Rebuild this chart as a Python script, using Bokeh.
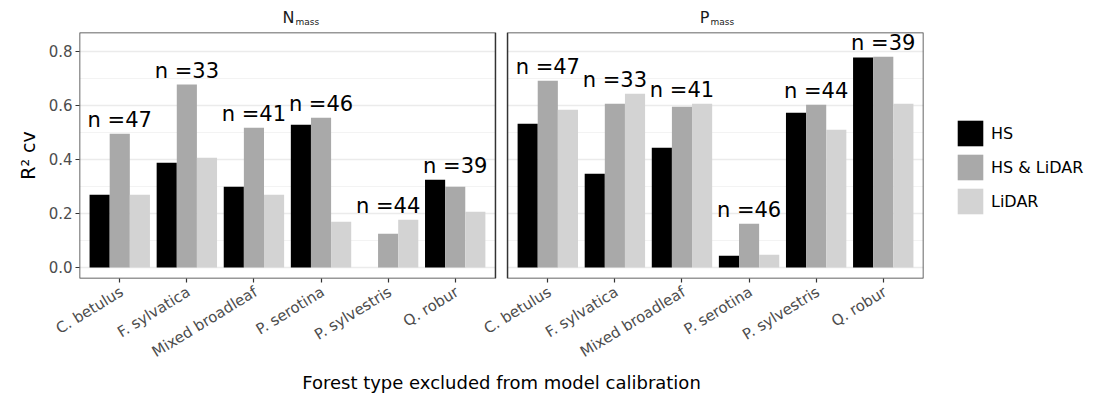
import math
import numpy as np
from bokeh.plotting import figure
from bokeh.layouts import column
from bokeh.models import (ColumnDataSource, Range1d, FixedTicker, PrintfTickFormatter,
                          BoxAnnotation, Legend, LegendItem, LinearAxis)
from bokeh.transform import dodge
from bokeh.core.properties import value
from bokeh.embed import file_html
from bokeh.resources import INLINE

# ---------------- data ----------------
forest_types = ["C. betulus", "F. sylvatica", "Mixed broadleaf",
                "P. serotina", "P. sylvestris", "Q. robur"]
series_names = ["HS", "HS & LiDAR", "LiDAR"]
n_obs = [47, 33, 41, 46, 44, 39]

# N_mass panel
n_hs = [0.269, 0.388, 0.299, 0.528, np.nan, 0.325]
n_hs_lidar = [0.495, 0.677, 0.517, 0.554, 0.125, 0.299]
n_lidar = [0.269, 0.406, 0.269, 0.169, 0.177, 0.206]

# P_mass panel
p_hs = [0.532, 0.347, 0.443, 0.043, 0.573, 0.777]
p_hs_lidar = [0.691, 0.606, 0.595, 0.162, 0.602, 0.780]
p_lidar = [0.584, 0.643, 0.606, 0.047, 0.510, 0.606]

y_ticks = [0.0, 0.2, 0.4, 0.6, 0.8]
y_minor = [0.1, 0.3, 0.5, 0.7]

# ---------------- styles ----------------
colors = ["#000000", "#A9A9A9", "#D3D3D3"]
FONT = "DejaVu Sans"
EXPAND = 0.6      # ggplot discrete expansion
GAP = 0.18        # gap between panels (x units)
BAR_W = 0.3
LABEL_SHIFT = 0.03   # small horizontal shift of rotated tick labels (x units)
panel_offset = 6 - 1 + 2 * EXPAND + GAP   # shift of second panel category positions

panels = [
    ("N", [n_hs, n_hs_lidar, n_lidar], 0.0),
    ("P", [p_hs, p_hs_lidar, p_lidar], panel_offset),
]

x_range = Range1d(1 - EXPAND, 6 + panel_offset + EXPAND)

# ---------------- strip (facet titles) ----------------
strip = figure(frame_width=844, frame_height=32, x_range=x_range, y_range=Range1d(0, 32),
               output_backend="svg", toolbar_location=None,
               min_border_left=79, min_border_right=173, min_border_top=0, min_border_bottom=0,
               background_fill_color="white", border_fill_color="white")
strip.outline_line_color = None
strip.axis.visible = False
strip.grid.grid_line_color = None
for (pname, vals, off), dx in zip(panels, (7, -6)):
    cx = 3.5 + off
    strip.text(x=[cx], y=[6], text=[pname], x_offset=dx, text_align="right",
               text_baseline="bottom", text_font=value(FONT), text_font_size="16px",
               text_color="#1A1A1A")
    strip.text(x=[cx], y=[6], text=["mass"], x_offset=dx + 1, text_align="left",
               text_baseline="bottom", text_font=value(FONT), text_font_size="9px",
               text_color="#1A1A1A")

# ---------------- main panels ----------------
p = figure(frame_width=844, frame_height=246,
           x_range=x_range, y_range=Range1d(-0.041, 0.870),
           output_backend="svg", toolbar_location=None,
           min_border_left=79, min_border_right=173,
           min_border_top=0, min_border_bottom=118,
           background_fill_color="white", border_fill_color="white")
p.outline_line_color = None

legend_renderers = []
tick_pos = []
label_pos = []
tick_names = {}
for pi_, (pname, vals, off) in enumerate(panels):
    xs = [i + 1 + off for i in range(len(forest_types))]
    for xv, nm in zip(xs, forest_types):
        tick_pos.append(xv)
        label_pos.append(xv + LABEL_SHIFT)
        tick_names[xv + LABEL_SHIFT] = nm
    for si, sname in enumerate(series_names):
        src = ColumnDataSource(dict(x=xs, top=vals[si]))
        r = p.vbar(x=dodge("x", (si - 1) * BAR_W, range=p.x_range), top="top",
                   width=BAR_W, source=src, fill_color=colors[si], line_color=None)
        if pi_ == 0:
            legend_renderers.append(r)
    top_vals = np.nanmax(np.array(vals, dtype=float), axis=0)
    lsrc = ColumnDataSource(dict(x=xs, y=top_vals, t=[f"n ={n}" for n in n_obs]))
    p.text(x="x", y="y", text="t", source=lsrc, text_align="center",
           text_baseline="bottom", y_offset=-2,
           text_font=value(FONT), text_font_size="21px", text_color="#000000")

# gap cover and panel borders
p.add_layout(BoxAnnotation(left=6 + EXPAND, right=1 + panel_offset - EXPAND,
                           fill_color="white", fill_alpha=1.0, line_color=None))
for pname, vals, off in panels:
    p.add_layout(BoxAnnotation(left=1 + off - EXPAND, right=6 + off + EXPAND,
                               fill_alpha=0, line_color="#333333", line_alpha=1.0,
                               line_width=1.5))

# grids
p.xgrid.grid_line_color = None
p.ygrid.grid_line_color = "#EBEBEB"
p.ygrid.grid_line_width = 1.5
p.ygrid.minor_grid_line_color = "#F3F3F3"
p.ygrid.minor_grid_line_width = 1

# axes
p.yaxis.ticker = FixedTicker(ticks=y_ticks, minor_ticks=y_minor)
p.yaxis.formatter = PrintfTickFormatter(format="%.1f")

# x axis 1: ticks only
p.xaxis.ticker = FixedTicker(ticks=tick_pos)
p.xaxis.major_label_overrides = {t: "" for t in tick_pos}
p.xaxis.major_label_text_font_size = "1px"
p.xaxis.major_label_standoff = 0

# x axis 2: rotated labels + title
xlab_axis = LinearAxis(ticker=FixedTicker(ticks=label_pos))
xlab_axis.major_label_overrides = tick_names
xlab_axis.major_label_orientation = 0.55
xlab_axis.major_tick_out = 0
xlab_axis.major_tick_in = 0
xlab_axis.major_tick_line_color = None
xlab_axis.minor_tick_line_color = None
xlab_axis.axis_line_color = None
xlab_axis.major_label_text_font = FONT
xlab_axis.major_label_text_font_size = "15px"
xlab_axis.major_label_text_color = "#4D4D4D"
xlab_axis.major_label_standoff = 8
xlab_axis.axis_label = "Forest type excluded from model calibration"
xlab_axis.axis_label_text_font = FONT
xlab_axis.axis_label_text_font_style = "normal"
xlab_axis.axis_label_text_color = "#000000"
xlab_axis.axis_label_text_font_size = "18px"
xlab_axis.axis_label_standoff = 0
p.add_layout(xlab_axis, "below")

for ax in (p.xaxis[0], p.yaxis[0]):
    ax.axis_line_color = None
    ax.major_tick_line_color = "#333333"
    ax.major_tick_line_width = 1.2
    ax.major_tick_out = 4
    ax.major_tick_in = 0
    ax.minor_tick_line_color = None

p.yaxis.major_label_text_font = FONT
p.yaxis.major_label_text_font_size = "15px"
p.yaxis.major_label_text_color = "#4D4D4D"
p.yaxis.major_label_standoff = 3
p.yaxis.axis_label = "R² cv"
p.yaxis.axis_label_text_font = FONT
p.yaxis.axis_label_text_font_style = "normal"
p.yaxis.axis_label_text_color = "#000000"
p.yaxis.axis_label_text_font_size = "19px"
p.yaxis.axis_label_standoff = 7

legend = Legend(items=[LegendItem(label=s, renderers=[r]) for s, r in zip(series_names, legend_renderers)],
                location=(31, 61), glyph_width=32, glyph_height=32, spacing=2,
                padding=0, margin=0, border_line_color=None, background_fill_alpha=0,
                label_text_font=FONT, label_text_font_size="16px", label_standoff=5,
                label_text_color="#000000")
p.add_layout(legend, "right")

layout = column(strip, p, spacing=0)
open("out.html", "w").write(file_html(layout, INLINE))
